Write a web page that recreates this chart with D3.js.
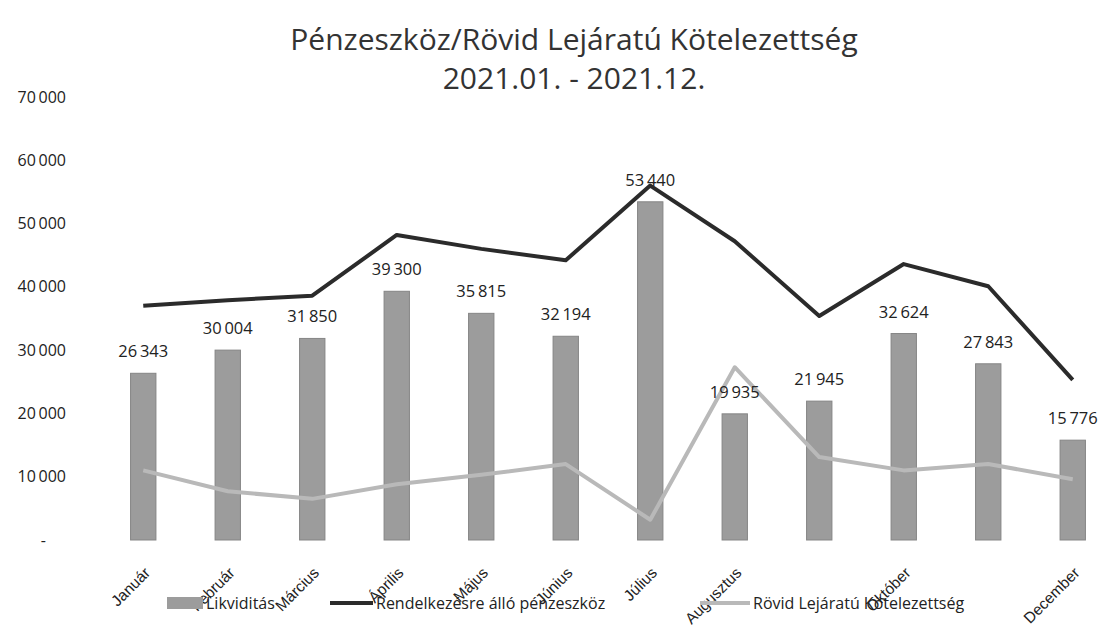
<!DOCTYPE html>
<html><head><meta charset="utf-8">
<script src="https://cdn.jsdelivr.net/npm/d3@7"></script>
<style>body{margin:0;background:#fff;} svg{font-family:"Open Sans","Noto Sans",sans-serif;}</style>
</head><body>
<svg id="c" width="1118" height="633"></svg>
<script>
const categories = ["Január","Február","Március","Április","Május","Június","Július","Augusztus","Szeptember","Október","November","December"];
const tickLabels = ["Január","Február","Március","Április","Május","Június","Július","Augusztus","","Október","","December"];
const likviditas = [26343,30004,31850,39300,35815,32194,53440,19935,21945,32624,27843,15776];
const rendelkezesre = [37000,37900,38600,48200,46000,44200,56000,47200,35400,43600,40100,25300];
const rovidLejaratu = [11000,7700,6500,8800,10300,12000,3200,27300,13100,11000,12000,9600];
const yTicks = [0,10000,20000,30000,40000,50000,60000,70000];
const seriesNames = ["Likviditás","Rendelkezésre álló pénzeszköz","Rövid Lejáratú Kötelezettség"];
const titleLines = ["Pénzeszköz/Rövid Lejáratú Kötelezettség","2021.01. - 2021.12."];

const svg = d3.select("#c");
const x = d3.scaleBand().domain(categories).range([101,1115]).paddingInner(0.7).paddingOuter(0.35);
const y = d3.scaleLinear().domain([0,70000]).range([540,97]);
const cx = d => x(d) + x.bandwidth()/2;
const fmt = v => v === 0 ? "-" : d3.format(",")(v).replace(/,/g, "\u2009");

// title
svg.append("g").selectAll("text").data(titleLines).join("text")
  .attr("x", 574).attr("y", (d,i)=> 50 + i*39)
  .attr("text-anchor","middle").attr("font-size", 30).attr("fill","#333").text(d=>d);

// y axis
const ya = svg.append("g").attr("transform","translate(66,0)")
  .call(d3.axisLeft(y).tickValues(yTicks).tickFormat(fmt).tickSize(0).tickPadding(0));
ya.select(".domain").remove();
ya.selectAll("text").attr("font-size",16).attr("fill","#222").attr("font-family","'Open Sans',sans-serif");
ya.selectAll(".tick").filter(d=>d===0).select("text").attr("dx",-20);

// bars
svg.append("g").selectAll("rect").data(likviditas).join("rect")
  .attr("x",(d,i)=>x(categories[i])).attr("width",x.bandwidth())
  .attr("y",d=>y(d)).attr("height",d=>y(0)-y(d))
  .attr("fill","#9c9c9c").attr("stroke","#858585").attr("stroke-width",1);

// lines
const line = d3.line().x((d,i)=>cx(categories[i])).y(d=>y(d));
svg.append("path").datum(rovidLejaratu).attr("d",line).attr("fill","none")
  .attr("stroke","#b9b9b9").attr("stroke-width",4).attr("stroke-linejoin","round");
svg.append("path").datum(rendelkezesre).attr("d",line).attr("fill","none")
  .attr("stroke","#2b2b2b").attr("stroke-width",4).attr("stroke-linejoin","round");

// bar labels
svg.append("g").selectAll("text").data(likviditas).join("text")
  .attr("x",(d,i)=>cx(categories[i])).attr("y",d=>y(d)-16)
  .attr("text-anchor","middle").attr("font-size",16.5).attr("fill","#222")
  .text(fmt);

// x axis labels
const xa = svg.append("g").attr("transform",`translate(0,${y(0)})`)
  .call(d3.axisBottom(x).tickFormat((d,i)=>tickLabels[i]).tickSize(0).tickPadding(0));
xa.select(".domain").remove();
xa.selectAll("text").attr("font-size",15.5).attr("fill","#222")
  .attr("text-anchor","end").attr("y",0).attr("dy","0.35em")
  .attr("transform","translate(4,30) rotate(-45)");

// legend
const lg = svg.append("g").attr("transform","translate(0,603)");
const items = [
  {name:seriesNames[0], type:"bar", x:167, w:36},
  {name:seriesNames[1], type:"dark", x:330, w:43},
  {name:seriesNames[2], type:"light", x:700, w:50}
];
items.forEach(it=>{
  const g = lg.append("g").attr("transform",`translate(${it.x},0)`);
  if(it.type==="bar") g.append("rect").attr("x",0).attr("y",-6).attr("width",it.w).attr("height",12).attr("fill","#9c9c9c");
  else g.append("line").attr("x1",0).attr("x2",it.w).attr("stroke",it.type==="dark"?"#2b2b2b":"#b9b9b9").attr("stroke-width",4);
  g.append("text").attr("x",it.w+3).attr("dy","0.35em").attr("font-size",16).attr("fill","#222").text(it.name);
});
</script>
</body></html>
